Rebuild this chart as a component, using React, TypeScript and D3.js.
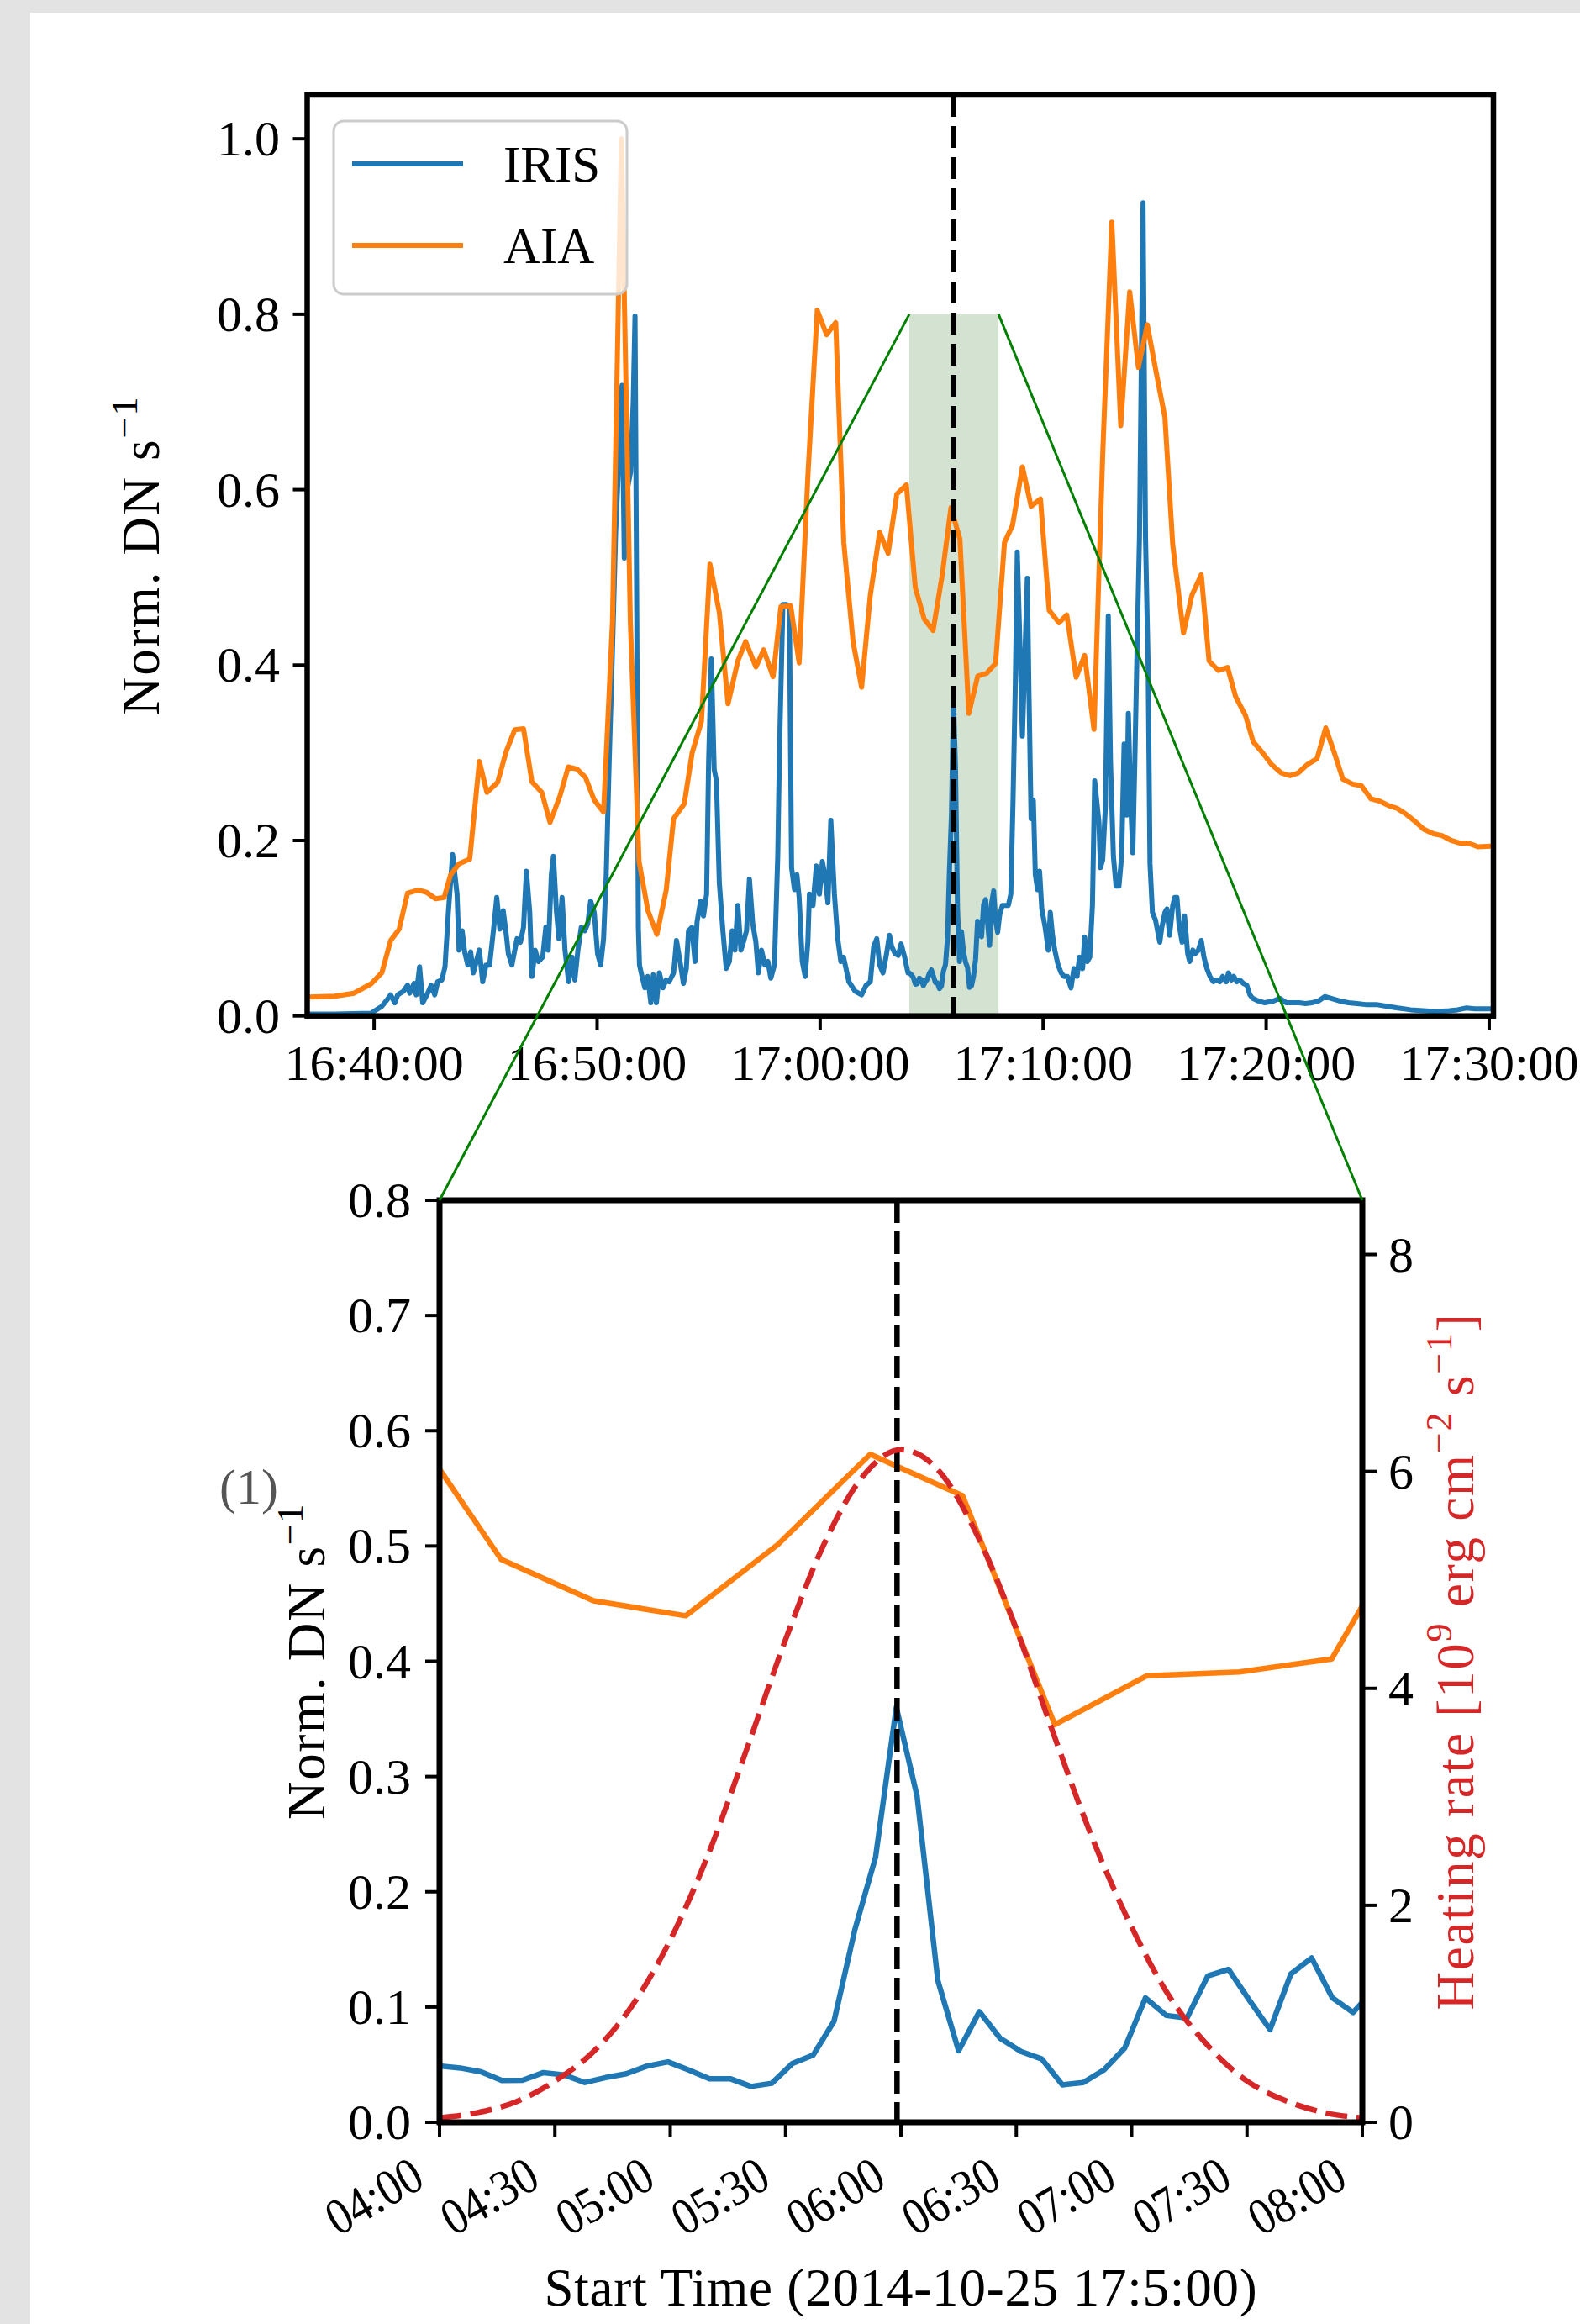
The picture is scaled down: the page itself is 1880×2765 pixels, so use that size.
import React, { useEffect } from "react";
import * as d3 from "d3";

// ---------- DATA (time in minutes after 16:40:00 UT, 2014-10-25) ----------
const irisSeries: [number, number][] = [
  [-2.92, 0.002], [-1.77, 0.002], [-0.13, 0.003], [-0.02, 0.005], [0.35, 0.011], [0.54, 0.017], [0.74, 0.024],
  [0.93, 0.015], [1.06, 0.024], [1.31, 0.028], [1.5, 0.035], [1.6, 0.026], [1.79, 0.037], [1.89, 0.024],
  [2.04, 0.056], [2.18, 0.015], [2.37, 0.024], [2.56, 0.035], [2.72, 0.024], [2.85, 0.039], [3.04, 0.041],
  [3.18, 0.056], [3.33, 0.118], [3.52, 0.184], [3.72, 0.139], [3.81, 0.075], [3.95, 0.097], [4.06, 0.073],
  [4.2, 0.058], [4.33, 0.073], [4.45, 0.049], [4.58, 0.062], [4.72, 0.075], [4.87, 0.039], [5.02, 0.058],
  [5.18, 0.058], [5.35, 0.097], [5.5, 0.135], [5.64, 0.099], [5.79, 0.12], [5.93, 0.092], [6.02, 0.071],
  [6.18, 0.058], [6.31, 0.075], [6.41, 0.088], [6.56, 0.084], [6.7, 0.101], [6.83, 0.165], [6.98, 0.118],
  [7.08, 0.045], [7.22, 0.075], [7.37, 0.062], [7.56, 0.067], [7.7, 0.101], [7.81, 0.075], [7.95, 0.161],
  [8.04, 0.182], [8.18, 0.118], [8.29, 0.088], [8.43, 0.135], [8.56, 0.075], [8.72, 0.039], [8.87, 0.067],
  [9.0, 0.041], [9.14, 0.075], [9.29, 0.101], [9.45, 0.097], [9.58, 0.105], [9.71, 0.131], [9.87, 0.118],
  [10.02, 0.071], [10.16, 0.058], [10.29, 0.088], [10.41, 0.161], [10.54, 0.289], [10.68, 0.409], [10.83, 0.55],
  [11.12, 0.719], [11.22, 0.522], [11.35, 0.6], [11.5, 0.62], [11.62, 0.7], [11.7, 0.798], [11.78, 0.45],
  [11.85, 0.1], [11.9, 0.058], [11.98, 0.049], [12.14, 0.032], [12.27, 0.045], [12.41, 0.015], [12.52, 0.047],
  [12.66, 0.015], [12.79, 0.049], [12.95, 0.032], [13.1, 0.041], [13.23, 0.039], [13.43, 0.049], [13.56, 0.086],
  [13.72, 0.062], [13.87, 0.037], [14.0, 0.054], [14.1, 0.097], [14.25, 0.101], [14.39, 0.062], [14.48, 0.107],
  [14.64, 0.131], [14.77, 0.114], [14.91, 0.139], [15.0, 0.289], [15.12, 0.407], [15.25, 0.281], [15.35, 0.268],
  [15.48, 0.152], [15.64, 0.097], [15.79, 0.054], [15.93, 0.062], [16.06, 0.097], [16.18, 0.075], [16.31, 0.126],
  [16.45, 0.075], [16.56, 0.084], [16.7, 0.097], [16.83, 0.156], [16.98, 0.105], [17.12, 0.084], [17.23, 0.049],
  [17.37, 0.075], [17.52, 0.058], [17.66, 0.062], [17.79, 0.043], [17.95, 0.058], [18.1, 0.182], [18.18, 0.306],
  [18.33, 0.469], [18.49, 0.469], [18.62, 0.467], [18.72, 0.169], [18.85, 0.144], [18.96, 0.161], [19.06, 0.135],
  [19.2, 0.062], [19.33, 0.045], [19.45, 0.084], [19.52, 0.139], [19.68, 0.126], [19.83, 0.171], [19.97, 0.139],
  [20.1, 0.176], [20.21, 0.161], [20.35, 0.129], [20.48, 0.223], [20.64, 0.139], [20.79, 0.088], [20.93, 0.062],
  [21.05, 0.067], [21.29, 0.039], [21.57, 0.028], [21.86, 0.024], [22.06, 0.035], [22.25, 0.039], [22.4, 0.079],
  [22.54, 0.088], [22.67, 0.058], [22.82, 0.049], [22.98, 0.071], [23.11, 0.092], [23.21, 0.079], [23.36, 0.071],
  [23.5, 0.069], [23.63, 0.082], [23.79, 0.067], [23.94, 0.049],
  [24.0, 0.0488], [24.09, 0.0471], [24.18, 0.0438], [24.27, 0.0362], [24.36, 0.0365], [24.45, 0.0431],
  [24.54, 0.0411], [24.63, 0.0345], [24.72, 0.0388], [24.81, 0.0421], [24.9, 0.0488], [24.99, 0.0524],
  [25.08, 0.0454], [25.17, 0.0378], [25.26, 0.0378], [25.35, 0.0311], [25.44, 0.0338], [25.53, 0.0511],
  [25.62, 0.0584], [25.71, 0.0877], [25.8, 0.1669], [25.89, 0.23], [25.98, 0.36], [26.07, 0.283],
  [26.16, 0.123], [26.25, 0.062], [26.34, 0.096], [26.43, 0.073], [26.52, 0.0614], [26.61, 0.055],
  [26.7, 0.0325], [26.79, 0.0345], [26.88, 0.0454], [26.97, 0.0644], [27.06, 0.108], [27.15, 0.0927],
  [27.24, 0.0904], [27.33, 0.127], [27.42, 0.1326], [27.51, 0.106], [27.6, 0.0804], [27.69, 0.1286],
  [27.78, 0.1426], [27.87, 0.108], [27.96, 0.0953], [28.05, 0.115],
  [28.17, 0.126], [28.3, 0.126], [28.44, 0.126], [28.55, 0.139], [28.65, 0.246], [28.75, 0.375], [28.84, 0.529],
  [28.98, 0.405], [29.07, 0.319], [29.17, 0.4], [29.29, 0.499], [29.36, 0.375], [29.46, 0.225], [29.56, 0.246],
  [29.65, 0.161], [29.75, 0.144], [29.84, 0.165], [29.94, 0.122], [30.09, 0.101], [30.23, 0.075], [30.32, 0.118],
  [30.42, 0.092], [30.52, 0.075], [30.67, 0.058], [30.81, 0.049], [30.94, 0.045], [31.09, 0.045], [31.25, 0.032],
  [31.38, 0.054], [31.52, 0.045], [31.63, 0.067], [31.77, 0.054], [31.86, 0.09], [31.98, 0.062], [32.09, 0.067],
  [32.21, 0.126], [32.31, 0.268], [32.4, 0.246], [32.5, 0.221], [32.57, 0.169], [32.67, 0.178], [32.79, 0.238],
  [32.92, 0.456], [33.02, 0.289], [33.15, 0.182], [33.27, 0.148], [33.4, 0.148], [33.52, 0.182], [33.63, 0.31],
  [33.75, 0.229], [33.82, 0.345], [33.92, 0.246], [34.02, 0.186], [34.11, 0.289], [34.21, 0.417], [34.32, 0.546],
  [34.48, 0.927], [34.59, 0.546], [34.71, 0.396], [34.79, 0.174], [34.9, 0.118], [35.04, 0.109], [35.13, 0.097],
  [35.23, 0.084], [35.32, 0.101], [35.46, 0.118], [35.55, 0.122], [35.67, 0.092], [35.81, 0.126], [35.9, 0.135],
  [36.0, 0.135], [36.09, 0.105], [36.23, 0.084], [36.34, 0.114], [36.48, 0.071], [36.57, 0.062], [36.71, 0.075],
  [36.82, 0.071], [36.96, 0.075], [37.09, 0.086], [37.21, 0.067], [37.34, 0.054], [37.48, 0.045], [37.63, 0.039],
  [37.79, 0.041], [37.92, 0.039], [38.05, 0.045], [38.21, 0.039], [38.31, 0.049], [38.44, 0.041], [38.55, 0.045],
  [38.69, 0.039], [38.82, 0.041], [38.98, 0.037], [39.13, 0.035], [39.27, 0.024], [39.4, 0.02], [39.65, 0.017],
  [39.94, 0.015], [40.32, 0.017], [40.61, 0.02], [40.9, 0.015], [41.19, 0.015], [41.48, 0.015], [41.77, 0.014],
  [42.05, 0.015], [42.34, 0.017], [42.63, 0.022], [42.92, 0.02], [43.3, 0.017], [43.69, 0.015], [44.07, 0.014],
  [44.46, 0.013], [44.94, 0.013], [45.42, 0.011], [45.9, 0.009], [46.48, 0.007], [47.05, 0.006], [47.63, 0.005],
  [48.21, 0.006], [48.59, 0.007], [48.98, 0.009], [49.36, 0.008], [49.75, 0.008], [50.04, 0.008], [50.19, 0.008],
];

const aiaSeries: [number, number][] = [
  [-2.92, 0.0216], [-1.76, 0.0224], [-0.9, 0.0259], [-0.13, 0.0366], [0.35, 0.0494], [0.74, 0.0858],
  [1.12, 0.0986], [1.5, 0.14], [1.99, 0.1436], [2.37, 0.1406], [2.76, 0.1337], [3.14, 0.135], [3.43, 0.1607],
  [3.81, 0.1735], [4.29, 0.179], [4.72, 0.29], [5.06, 0.2548], [5.54, 0.2664], [5.93, 0.302], [6.31, 0.3263],
  [6.7, 0.3275], [7.08, 0.2668], [7.52, 0.2548], [7.89, 0.2206], [8.33, 0.2505], [8.71, 0.2839], [9.1, 0.2813],
  [9.48, 0.2719], [9.87, 0.2462], [10.29, 0.2325], [10.69, 0.45], [11.09, 1.0], [11.49, 0.45], [11.88, 0.176],
  [12.28, 0.12], [12.68, 0.093], [13.1, 0.1436], [13.43, 0.2249], [13.91, 0.242], [14.26, 0.2997], [14.68, 0.336],
  [15.06, 0.515], [15.48, 0.46], [15.87, 0.356], [16.31, 0.4046], [16.66, 0.4268], [17.12, 0.398], [17.47, 0.4174],
  [17.89, 0.3866], [18.24, 0.4666], [18.68, 0.4675], [19.06, 0.4025], [19.46, 0.62], [19.87, 0.8045],
  [20.29, 0.7768], [20.7, 0.7905], [21.06, 0.54], [21.48, 0.426], [21.86, 0.3746], [22.25, 0.4795],
  [22.67, 0.5514], [23.05, 0.5274], [23.44, 0.595], [23.867, 0.6055], [24.267, 0.4884], [24.667, 0.4525],
  [25.067, 0.4395], [25.467, 0.5014], [25.867, 0.5796], [26.267, 0.5437], [26.667, 0.345], [27.067, 0.3875],
  [27.467, 0.3907], [27.867, 0.402], [28.267, 0.54], [28.63, 0.5595], [29.07, 0.626], [29.46, 0.581],
  [29.88, 0.5894], [30.27, 0.4624], [30.71, 0.4482], [31.06, 0.4572], [31.48, 0.3862], [31.86, 0.411],
  [32.28, 0.3267], [32.67, 0.64], [33.08, 0.905], [33.48, 0.673], [33.88, 0.8256], [34.27, 0.7394],
  [34.67, 0.788], [35.07, 0.7336], [35.46, 0.6825], [35.81, 0.5372], [36.29, 0.4367], [36.67, 0.4795],
  [37.09, 0.503], [37.44, 0.4046], [37.86, 0.3938], [38.27, 0.3973], [38.63, 0.364], [39.07, 0.3426],
  [39.42, 0.3126], [39.85, 0.2997], [40.23, 0.2869], [40.67, 0.2771], [41.06, 0.274], [41.44, 0.2771],
  [41.86, 0.2869], [42.28, 0.2933], [42.67, 0.3284], [43.06, 0.2997], [43.44, 0.2698], [43.88, 0.2643],
  [44.27, 0.2625], [44.69, 0.2476], [45.09, 0.245], [45.48, 0.2398], [45.86, 0.2368], [46.25, 0.2304],
  [46.67, 0.2219], [47.06, 0.2129], [47.5, 0.2077], [47.88, 0.2056], [48.3, 0.2], [48.69, 0.197],
  [49.07, 0.197], [49.5, 0.1928], [50.04, 0.1936], [50.19, 0.1936],
];

// Heating rate [1e9 erg cm^-2 s^-1], seconds after 17:04:00
const heatSeconds = [0, 10, 20, 30, 40, 50, 60, 70, 80, 90, 100, 110, 120, 130, 140, 150, 160, 170, 180, 190, 200, 210, 220, 230, 240];
const heatRate = [0.04, 0.09, 0.19, 0.38, 0.65, 1.07, 1.68, 2.48, 3.45, 4.45, 5.33, 5.95, 6.2, 6.0, 5.4, 4.55, 3.55, 2.6, 1.8, 1.15, 0.7, 0.38, 0.2, 0.09, 0.04];

const topYTicks = [0, 0.2, 0.4, 0.6, 0.8, 1.0];
const botYTicks = [0, 0.1, 0.2, 0.3, 0.4, 0.5, 0.6, 0.7, 0.8];
const heatTicks = [0, 2, 4, 6, 8];
const legendNames = ["IRIS", "AIA"];
const xLabelText = "Start Time (2014-10-25 17:5:00)";

const topXDomainMin = [-3.0, 50.19];
const zoomWindowMin = [24, 28];
const markerMin = 25.983; // 17:05:59
const shadeTop = 0.8;

// ---------- STYLE ----------
const C_IRIS = "#1f77b4";
const C_AIA = "#ff7f0e";
const C_HEAT = "#d62728";
const C_GREEN = "#008000";
const FONT = "'Liberation Serif', 'Times New Roman', serif";

const base = Date.UTC(2014, 9, 25, 16, 40, 0);
const toDate = (m: number) => new Date(base + m * 60000);

type Part = { t: string; sup?: boolean };

function RichText(props: {
  x: number; y: number; parts: Part[]; size: number; anchor?: string; rotate?: number; fill?: string; ls?: number;
}) {
  const { x, y, parts, size, anchor = "middle", rotate = 0, fill = "#000", ls = 0 } = props;
  const shift = size * 0.42;
  let prevSup = false;
  const spans = parts.map((p, i) => {
    let dy = 0;
    if (p.sup && !prevSup) dy = -shift;
    if (!p.sup && prevSup) dy = shift;
    prevSup = !!p.sup;
    return (
      <tspan key={i} dy={dy} fontSize={p.sup ? size * 0.7 : size}>{p.t}</tspan>
    );
  });
  return (
    <text transform={`translate(${x},${y}) rotate(${rotate})`} textAnchor={anchor} fill={fill}
      fontFamily={FONT} fontSize={size} letterSpacing={ls}>{spans}</text>
  );
}

export default function App() {
  useEffect(() => { document.body.style.margin = "0"; }, []);

  // Top panel
  const TL = 365.5, TR = 1777, TT = 113, TB = 1208.7;
  const xTop = d3.scaleUtc().domain([toDate(topXDomainMin[0]), toDate(topXDomainMin[1])]).range([TL, TR]);
  const yTop = d3.scaleLinear().domain([0, 1.05]).range([TB, TT]);
  const topLine = d3.line<[number, number]>().x(d => xTop(toDate(d[0]))).y(d => yTop(d[1]));
  const topXTicks = xTop.ticks(d3.utcMinute.every(10) as any);
  const fmtTop = d3.utcFormat("%H:%M:%S");

  // Bottom panel
  const BL = 523, BR = 1621, BT = 1428, BB = 2525;
  const xBot = d3.scaleUtc().domain([toDate(zoomWindowMin[0]), toDate(zoomWindowMin[1])]).range([BL, BR]);
  const yBot = d3.scaleLinear().domain([0, 0.8]).range([BB, BT]);
  const yHeat = d3.scaleLinear().domain([0, 8.5]).range([BB, BT]);
  const botLine = d3.line<[number, number]>().x(d => xBot(toDate(d[0]))).y(d => yBot(d[1]));
  const heatLine = d3.line<number>()
    .x((_, i) => xBot(toDate(zoomWindowMin[0] + heatSeconds[i] / 60)))
    .y(d => yHeat(d))
    .curve(d3.curveMonotoneX);
  const botXTicks = xBot.ticks(d3.utcSecond.every(30) as any);
  const fmtBot = d3.utcFormat("%M:%S");

  const inWin = (d: [number, number]) => d[0] >= zoomWindowMin[0] - 0.5 && d[0] <= zoomWindowMin[1] + 0.5;
  const irisZoom = irisSeries.filter(inWin);
  const aiaZoom = aiaSeries.filter(inWin);

  const sx0 = xTop(toDate(zoomWindowMin[0]));
  const sx1 = xTop(toDate(zoomWindowMin[1]));
  const sy = yTop(shadeTop);

  const TICK = 17;
  const spineW = 6.5;

  return (
    <div style={{ position: "absolute", left: 0, top: 0 }}>
      <svg width={1880} height={2765} style={{ display: "block" }}>
        <defs>
          <clipPath id="clipTop"><rect x={TL} y={TT} width={TR - TL} height={TB - TT} /></clipPath>
          <clipPath id="clipBot"><rect x={BL} y={BT} width={BR - BL} height={BB - BT} /></clipPath>
        </defs>
        <rect x={0} y={0} width={1880} height={2765} fill="#e3e3e3" />
        <rect x={36} y={15} width={1844} height={2750} fill="#ffffff" />

        {/* ---------------- TOP PANEL ---------------- */}
        <rect x={sx0} y={sy} width={sx1 - sx0} height={yTop(0) - sy} fill="#d4e2d2" />
        <g clipPath="url(#clipTop)">
          <path d={topLine(irisSeries) || ""} fill="none" stroke={C_IRIS} strokeWidth={6} strokeLinejoin="round" />
          <path d={topLine(aiaSeries) || ""} fill="none" stroke={C_AIA} strokeWidth={6} strokeLinejoin="round" />
        </g>
        <line x1={xTop(toDate(markerMin))} x2={xTop(toDate(markerMin))} y1={TT} y2={TB}
          stroke="#000" strokeWidth={6.5} strokeDasharray="26,11" />
        <rect x={TL} y={TT} width={TR - TL} height={TB - TT} fill="none" stroke="#000" strokeWidth={spineW} />
        {topYTicks.map(v => (
          <g key={"ty" + v}>
            <line x1={TL - TICK} x2={TL} y1={yTop(v)} y2={yTop(v)} stroke="#000" strokeWidth={4} />
            <text x={333} y={yTop(v) + 20} textAnchor="end" fontFamily={FONT} fontSize={60}>{v.toFixed(1)}</text>
          </g>
        ))}
        {topXTicks.map((d, i) => (
          <g key={"tx" + i}>
            <line x1={xTop(d)} x2={xTop(d)} y1={TB} y2={TB + TICK} stroke="#000" strokeWidth={4} />
            <text x={xTop(d)} y={1285} textAnchor="middle" fontFamily={FONT} fontSize={60}>{fmtTop(d)}</text>
          </g>
        ))}
        <RichText x={189} y={(TT + TB) / 2} rotate={-90} size={63} ls={2}
          parts={[{ t: "Norm. DN s" }, { t: "\u22121", sup: true }]} />

        {/* legend */}
        <rect x={397} y={144} width={349} height={206} rx={12} ry={12} fill="#ffffff" fillOpacity={0.8}
          stroke="#cccccc" strokeWidth={3} />
        {legendNames.map((n, i) => (
          <g key={n}>
            <line x1={419} x2={551} y1={195 + i * 97} y2={195 + i * 97} stroke={i === 0 ? C_IRIS : C_AIA} strokeWidth={6} />
            <text x={599} y={216 + i * 97} fontFamily={FONT} fontSize={61}>{n}</text>
          </g>
        ))}

        {/* ---------------- BOTTOM PANEL ---------------- */}
        <g clipPath="url(#clipBot)">
          <path d={botLine(irisZoom) || ""} fill="none" stroke={C_IRIS} strokeWidth={6.5} strokeLinejoin="round" />
          <path d={botLine(aiaZoom) || ""} fill="none" stroke={C_AIA} strokeWidth={6.5} strokeLinejoin="round" />
          <line x1={xBot(toDate(markerMin))} x2={xBot(toDate(markerMin))} y1={BT} y2={BB}
            stroke="#000" strokeWidth={6.5} strokeDasharray="27,10" />
          <path d={heatLine(heatRate) || ""} fill="none" stroke={C_HEAT} strokeWidth={6.5} strokeDasharray="26,11" />
        </g>
        <rect x={BL} y={BT} width={BR - BL} height={BB - BT} fill="none" stroke="#000" strokeWidth={7} />
        {botYTicks.map(v => (
          <g key={"by" + v}>
            <line x1={BL - TICK} x2={BL} y1={yBot(v)} y2={yBot(v)} stroke="#000" strokeWidth={4} />
            <text x={489} y={yBot(v) + 20} textAnchor="end" fontFamily={FONT} fontSize={60}>{v.toFixed(1)}</text>
          </g>
        ))}
        {heatTicks.map(v => (
          <g key={"hy" + v}>
            <line x1={BR} x2={BR + TICK} y1={yHeat(v)} y2={yHeat(v)} stroke="#000" strokeWidth={4} />
            <text x={1652} y={yHeat(v) + 20} textAnchor="start" fontFamily={FONT} fontSize={60}>{v}</text>
          </g>
        ))}
        {botXTicks.map((d, i) => (
          <g key={"bx" + i}>
            <line x1={xBot(d)} x2={xBot(d)} y1={BB} y2={BB + TICK} stroke="#000" strokeWidth={4} />
            <text transform={`translate(${xBot(d) - 15},${2600}) rotate(-30) scale(0.88,1)`} textAnchor="end"
              fontFamily={FONT} fontSize={61}>{fmtBot(d)}</text>
          </g>
        ))}
        <RichText x={386} y={(BT + BB) / 2} rotate={-90} size={63} ls={1.7}
          parts={[{ t: "Norm. DN s" }, { t: "\u22121", sup: true }]} />
        <text x={261} y={1789} fontFamily={FONT} fontSize={60} fill="#555555">(1)</text>
        <RichText x={1753} y={(BT + BB) / 2} rotate={-90} size={63} ls={1.8} fill={C_HEAT}
          parts={[
            { t: "Heating rate [10" }, { t: "9", sup: true }, { t: " erg cm" }, { t: "\u22122", sup: true },
            { t: " s" }, { t: "\u22121", sup: true }, { t: "]" },
          ]} />
        <text x={(BL + BR) / 2} y={2743} textAnchor="middle" fontFamily={FONT} fontSize={63} letterSpacing={0.8}>
          {xLabelText}
        </text>

        {/* ---------------- ZOOM CONNECTORS ---------------- */}
        <line x1={sx0} y1={sy} x2={BL} y2={BT} stroke={C_GREEN} strokeWidth={3} />
        <line x1={sx1} y1={sy} x2={BR} y2={BT} stroke={C_GREEN} strokeWidth={3} />
      </svg>
    </div>
  );
}
